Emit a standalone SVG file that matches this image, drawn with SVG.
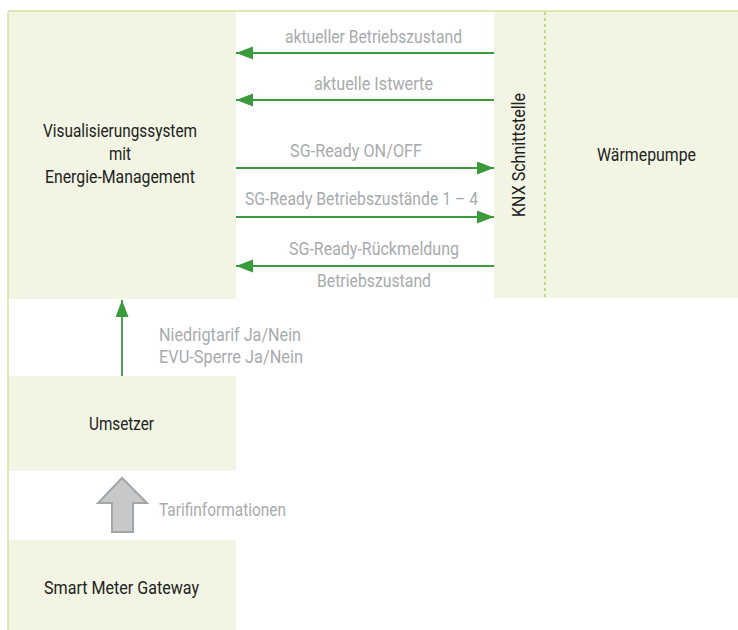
<svg xmlns="http://www.w3.org/2000/svg" width="738" height="630" viewBox="0 0 738 630">
<style>
.box{fill:#f2f5e3}
.dark{font-family:Roboto,"Liberation Sans",sans-serif;font-size:18px;fill:#222}
.grey{font-family:Roboto,"Liberation Sans",sans-serif;font-size:17.5px;fill:#a8abad}
.conn{stroke:#3a9a3c;stroke-width:1.8;fill:none}
.frame{stroke:#d5e1a2;stroke-width:1.5;fill:none}
</style>
<defs>
<marker id="ah" markerUnits="userSpaceOnUse" markerWidth="18" markerHeight="14" refX="17" refY="6.5" orient="auto">
<path d="M0,0 L17,6.5 L0,13 Z" fill="#3a9a3c"/>
</marker>
</defs>
<rect width="738" height="630" fill="#fff"/>
<g id="vis">
<rect class="box" x="8" y="11" width="228" height="288"/>
<text class="dark" x="120" y="137" text-anchor="middle" textLength="154" lengthAdjust="spacingAndGlyphs">Visualisierungssystem</text>
<text class="dark" x="120" y="160" text-anchor="middle" textLength="22" lengthAdjust="spacingAndGlyphs">mit</text>
<text class="dark" x="120" y="183" text-anchor="middle" textLength="150" lengthAdjust="spacingAndGlyphs">Energie-Management</text>
</g>
<g id="knx">
<rect class="box" x="494" y="11" width="51" height="287"/>
<text class="dark" transform="translate(525,155) rotate(-90)" x="0" y="0" text-anchor="middle" textLength="124" lengthAdjust="spacingAndGlyphs">KNX Schnittstelle</text>
</g>
<g id="waermepumpe">
<rect class="box" x="545" y="11" width="193" height="287"/>
<text class="dark" x="646.5" y="161" text-anchor="middle" textLength="99" lengthAdjust="spacingAndGlyphs">Wärmepumpe</text>
</g>
<g id="umsetzer">
<rect class="box" x="8" y="376" width="228" height="95"/>
<text class="dark" x="121.5" y="430" text-anchor="middle" textLength="65" lengthAdjust="spacingAndGlyphs">Umsetzer</text>
</g>
<g id="smartmeter">
<rect class="box" x="8" y="540" width="228" height="90"/>
<text class="dark" x="121.5" y="594" text-anchor="middle" textLength="155" lengthAdjust="spacingAndGlyphs">Smart Meter Gateway</text>
</g>
<g id="frame">
<line class="frame" x1="8" y1="11" x2="738" y2="11"/>
<line class="frame" x1="8" y1="11" x2="8" y2="630"/>
<line x1="545" y1="12" x2="545" y2="298" stroke="#a6c83c" stroke-width="1.2" stroke-dasharray="3,3"/>
</g>
<g id="connectors">
<line class="conn" x1="494" y1="53" x2="236" y2="53" marker-end="url(#ah)"/>
<line class="conn" x1="494" y1="100" x2="236" y2="100" marker-end="url(#ah)"/>
<line class="conn" x1="236" y1="168" x2="494" y2="168" marker-end="url(#ah)"/>
<line class="conn" x1="236" y1="217" x2="494" y2="217" marker-end="url(#ah)"/>
<line class="conn" x1="494" y1="266" x2="236" y2="266" marker-end="url(#ah)"/>
<line class="conn" x1="122" y1="376" x2="122" y2="300" marker-end="url(#ah)"/>
<polygon points="122,478 147,503 133,503 133,532 112,532 112,503 98,503" fill="#c6c8c9" stroke="#a3a6a8" stroke-width="2"/>
<text class="grey" x="285" y="43" textLength="177" lengthAdjust="spacingAndGlyphs">aktueller Betriebszustand</text>
<text class="grey" x="314" y="90" textLength="119" lengthAdjust="spacingAndGlyphs">aktuelle Istwerte</text>
<text class="grey" x="290" y="157" textLength="132" lengthAdjust="spacingAndGlyphs">SG-Ready ON/OFF</text>
<text class="grey" x="245" y="205" textLength="233" lengthAdjust="spacingAndGlyphs">SG-Ready Betriebszustände 1 – 4</text>
<text class="grey" x="289" y="255" textLength="170" lengthAdjust="spacingAndGlyphs">SG-Ready-Rückmeldung</text>
<text class="grey" x="317" y="287" textLength="114" lengthAdjust="spacingAndGlyphs">Betriebszustand</text>
<text class="grey" x="159" y="341" textLength="142" lengthAdjust="spacingAndGlyphs">Niedrigtarif Ja/Nein</text>
<text class="grey" x="159" y="363" textLength="144" lengthAdjust="spacingAndGlyphs">EVU-Sperre Ja/Nein</text>
<text class="grey" x="159" y="516" textLength="127" lengthAdjust="spacingAndGlyphs">Tarifinformationen</text>
</g>
</svg>
